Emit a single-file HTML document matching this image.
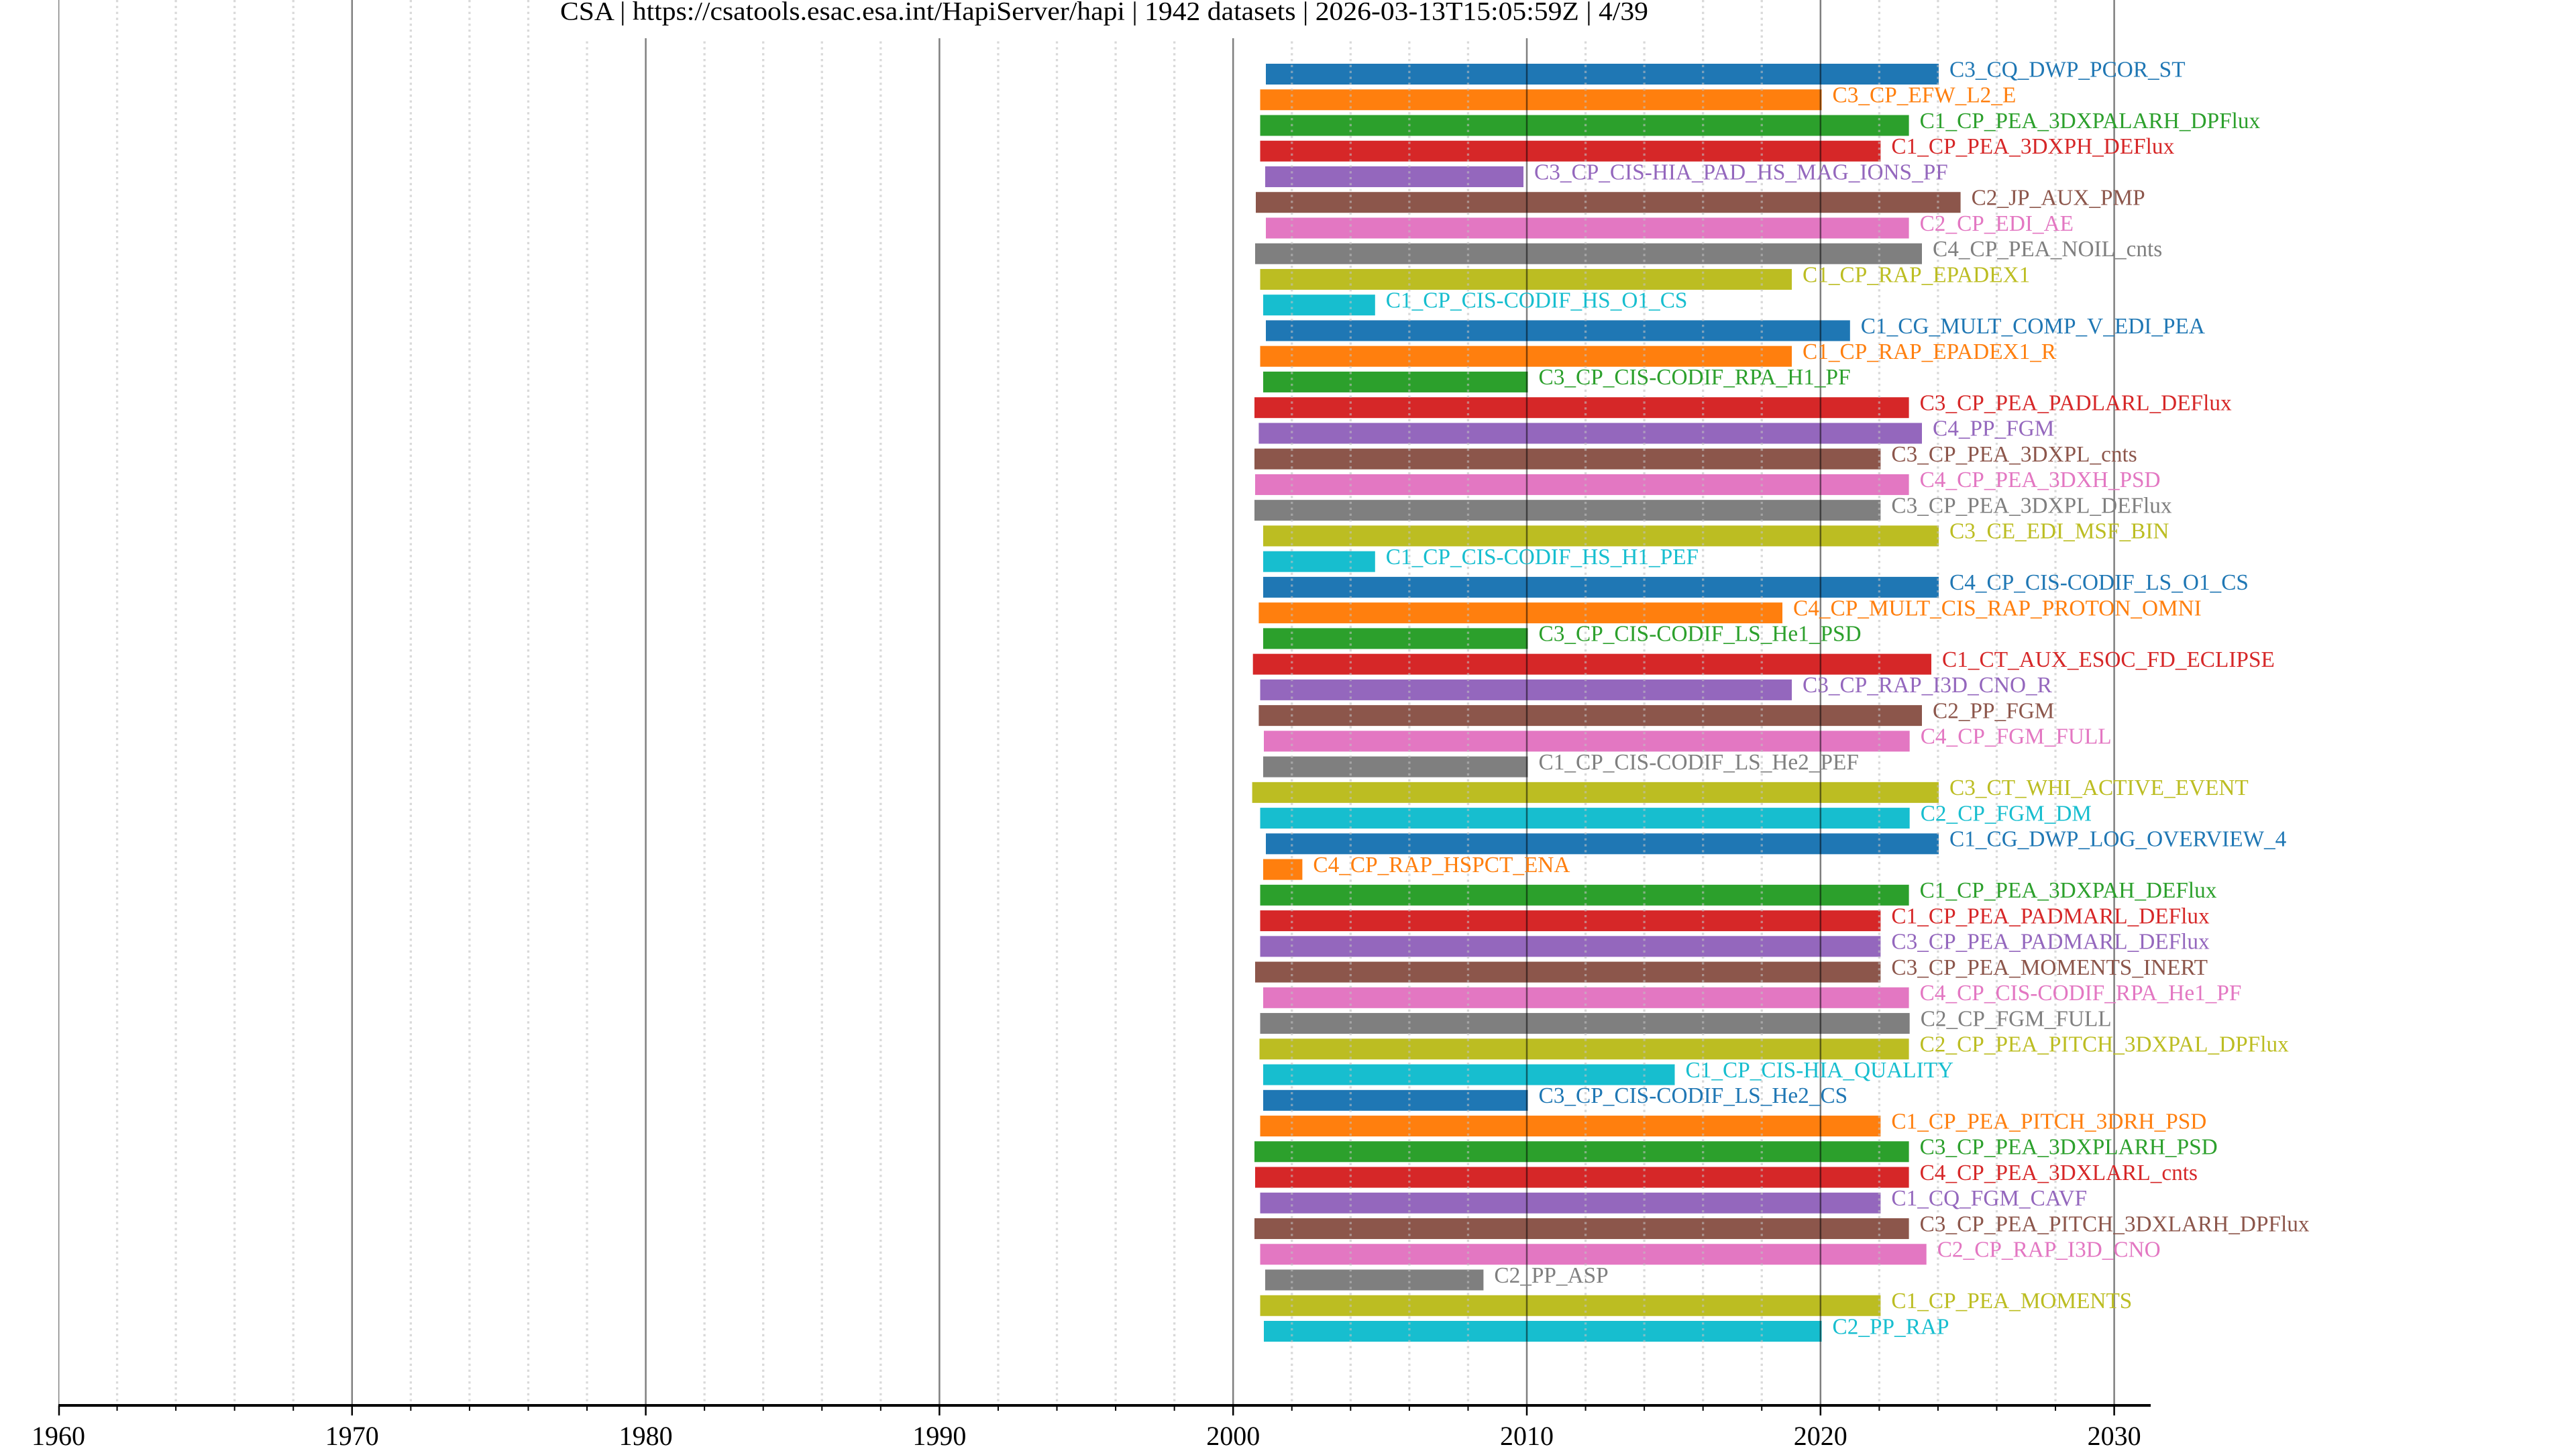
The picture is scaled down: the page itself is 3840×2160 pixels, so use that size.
<!DOCTYPE html>
<html>
<head>
<meta charset="utf-8">
<style>
html,body{margin:0;padding:0;background:#fff;}
svg{display:block;}
text{font-family:"Liberation Serif","Times New Roman",serif;}
</style>
</head>
<body>
<svg xmlns="http://www.w3.org/2000/svg" width="3840" height="2160" viewBox="0 0 3840 2160">
<rect x="0" y="0" width="3840" height="2160" fill="#fff"/>
<g id="bars">
<rect x="1887" y="95" width="1003" height="31" fill="#1f77b4"/>
<rect x="1878.5" y="133.25" width="837" height="31" fill="#ff7f0e"/>
<rect x="1878.5" y="171.5" width="967.1" height="31" fill="#2ca02c"/>
<rect x="1878.5" y="209.74" width="924.9" height="31" fill="#d62728"/>
<rect x="1886" y="247.98" width="385" height="31" fill="#9467bd"/>
<rect x="1872" y="286.23" width="1050.6" height="31" fill="#8c564b"/>
<rect x="1887" y="324.47" width="958.6" height="31" fill="#e377c2"/>
<rect x="1871" y="362.72" width="994" height="31" fill="#7f7f7f"/>
<rect x="1878.5" y="400.96" width="792.5" height="31" fill="#bcbd22"/>
<rect x="1883" y="439.21" width="166.8" height="31" fill="#17becf"/>
<rect x="1887" y="477.45" width="870.8" height="31" fill="#1f77b4"/>
<rect x="1878.5" y="515.7" width="792.5" height="31" fill="#ff7f0e"/>
<rect x="1883" y="553.94" width="394.5" height="31" fill="#2ca02c"/>
<rect x="1870" y="592.19" width="975.6" height="31" fill="#d62728"/>
<rect x="1876.4" y="630.43" width="988.6" height="31" fill="#9467bd"/>
<rect x="1870" y="668.68" width="933.4" height="31" fill="#8c564b"/>
<rect x="1871" y="706.92" width="974.6" height="31" fill="#e377c2"/>
<rect x="1870" y="745.17" width="933.4" height="31" fill="#7f7f7f"/>
<rect x="1883" y="783.41" width="1007" height="31" fill="#bcbd22"/>
<rect x="1883" y="821.66" width="166.8" height="31" fill="#17becf"/>
<rect x="1883" y="859.9" width="1007" height="31" fill="#1f77b4"/>
<rect x="1876.4" y="898.15" width="780.6" height="31" fill="#ff7f0e"/>
<rect x="1883" y="936.39" width="394.5" height="31" fill="#2ca02c"/>
<rect x="1867.7" y="974.64" width="1011.3" height="31" fill="#d62728"/>
<rect x="1878.5" y="1012.88" width="792.5" height="31" fill="#9467bd"/>
<rect x="1876.4" y="1051.13" width="988.6" height="31" fill="#8c564b"/>
<rect x="1884" y="1089.37" width="962.7" height="31" fill="#e377c2"/>
<rect x="1883" y="1127.62" width="394.5" height="31" fill="#7f7f7f"/>
<rect x="1866.6" y="1165.86" width="1023.4" height="31" fill="#bcbd22"/>
<rect x="1878.5" y="1204.11" width="968.2" height="31" fill="#17becf"/>
<rect x="1887" y="1242.35" width="1003" height="31" fill="#1f77b4"/>
<rect x="1883" y="1280.6" width="58.4" height="31" fill="#ff7f0e"/>
<rect x="1878.5" y="1318.84" width="967.1" height="31" fill="#2ca02c"/>
<rect x="1878.5" y="1357.09" width="924.9" height="31" fill="#d62728"/>
<rect x="1878.5" y="1395.33" width="924.9" height="31" fill="#9467bd"/>
<rect x="1871" y="1433.58" width="932.4" height="31" fill="#8c564b"/>
<rect x="1883" y="1471.82" width="962.6" height="31" fill="#e377c2"/>
<rect x="1878.5" y="1510.07" width="968.2" height="31" fill="#7f7f7f"/>
<rect x="1877.5" y="1548.31" width="968.1" height="31" fill="#bcbd22"/>
<rect x="1883" y="1586.56" width="613.5" height="31" fill="#17becf"/>
<rect x="1883" y="1624.8" width="394.5" height="31" fill="#1f77b4"/>
<rect x="1878.5" y="1663.05" width="924.9" height="31" fill="#ff7f0e"/>
<rect x="1870" y="1701.29" width="975.6" height="31" fill="#2ca02c"/>
<rect x="1871" y="1739.54" width="974.6" height="31" fill="#d62728"/>
<rect x="1878.5" y="1777.78" width="924.9" height="31" fill="#9467bd"/>
<rect x="1870" y="1816.03" width="975.6" height="31" fill="#8c564b"/>
<rect x="1878.5" y="1854.27" width="993.2" height="31" fill="#e377c2"/>
<rect x="1886" y="1892.52" width="325.4" height="31" fill="#7f7f7f"/>
<rect x="1878.5" y="1930.76" width="924.9" height="31" fill="#bcbd22"/>
<rect x="1884" y="1969.01" width="831.5" height="31" fill="#17becf"/>
</g>
<g id="minor" stroke="#c0c0c0" stroke-opacity="0.6" stroke-width="3.3" stroke-dasharray="3.3 5.5">
<line x1="174.56" y1="0" x2="174.56" y2="2093"/>
<line x1="262.12" y1="0" x2="262.12" y2="2093"/>
<line x1="349.68" y1="0" x2="349.68" y2="2093"/>
<line x1="437.24" y1="0" x2="437.24" y2="2093"/>
<line x1="612.36" y1="0" x2="612.36" y2="2093"/>
<line x1="699.92" y1="0" x2="699.92" y2="2093"/>
<line x1="787.48" y1="0" x2="787.48" y2="2093"/>
<line x1="875.04" y1="0" x2="875.04" y2="2093"/>
<line x1="1050.16" y1="0" x2="1050.16" y2="2093"/>
<line x1="1137.72" y1="0" x2="1137.72" y2="2093"/>
<line x1="1225.28" y1="0" x2="1225.28" y2="2093"/>
<line x1="1312.84" y1="0" x2="1312.84" y2="2093"/>
<line x1="1487.96" y1="0" x2="1487.96" y2="2093"/>
<line x1="1575.52" y1="0" x2="1575.52" y2="2093"/>
<line x1="1663.08" y1="0" x2="1663.08" y2="2093"/>
<line x1="1750.64" y1="0" x2="1750.64" y2="2093"/>
<line x1="1925.76" y1="0" x2="1925.76" y2="2093"/>
<line x1="2013.32" y1="0" x2="2013.32" y2="2093"/>
<line x1="2100.88" y1="0" x2="2100.88" y2="2093"/>
<line x1="2188.44" y1="0" x2="2188.44" y2="2093"/>
<line x1="2363.56" y1="0" x2="2363.56" y2="2093"/>
<line x1="2451.12" y1="0" x2="2451.12" y2="2093"/>
<line x1="2538.68" y1="0" x2="2538.68" y2="2093"/>
<line x1="2626.24" y1="0" x2="2626.24" y2="2093"/>
<line x1="2801.36" y1="0" x2="2801.36" y2="2093"/>
<line x1="2888.92" y1="0" x2="2888.92" y2="2093"/>
<line x1="2976.48" y1="0" x2="2976.48" y2="2093"/>
<line x1="3064.04" y1="0" x2="3064.04" y2="2093"/>
</g>
<g id="major" stroke="#000" stroke-opacity="0.5" stroke-width="2.5">
<line x1="524.8" y1="0" x2="524.8" y2="2093"/>
<line x1="962.6" y1="0" x2="962.6" y2="2093"/>
<line x1="1400.4" y1="0" x2="1400.4" y2="2093"/>
<line x1="1838.2" y1="0" x2="1838.2" y2="2093"/>
<line x1="2276" y1="0" x2="2276" y2="2093"/>
<line x1="2713.8" y1="0" x2="2713.8" y2="2093"/>
<line x1="3151.6" y1="0" x2="3151.6" y2="2093"/>
</g>
<rect x="87" y="0" width="1.4" height="2093" fill="#000" fill-opacity="0.5"/>
<g id="labels" font-size="33.3">
<text x="2906" y="114.3" fill="#1f77b4">C3_CQ_DWP_PCOR_ST</text>
<text x="2731.5" y="152.55" fill="#ff7f0e">C3_CP_EFW_L2_E</text>
<text x="2861.6" y="190.79" fill="#2ca02c">C1_CP_PEA_3DXPALARH_DPFlux</text>
<text x="2819.4" y="229.04" fill="#d62728">C1_CP_PEA_3DXPH_DEFlux</text>
<text x="2287" y="267.28" fill="#9467bd">C3_CP_CIS-HIA_PAD_HS_MAG_IONS_PF</text>
<text x="2938.6" y="305.53" fill="#8c564b">C2_JP_AUX_PMP</text>
<text x="2861.6" y="343.77" fill="#e377c2">C2_CP_EDI_AE</text>
<text x="2881" y="382.02" fill="#7f7f7f">C4_CP_PEA_NOIL_cnts</text>
<text x="2687" y="420.26" fill="#bcbd22">C1_CP_RAP_EPADEX1</text>
<text x="2065.8" y="458.51" fill="#17becf">C1_CP_CIS-CODIF_HS_O1_CS</text>
<text x="2773.8" y="496.75" fill="#1f77b4">C1_CG_MULT_COMP_V_EDI_PEA</text>
<text x="2687" y="535" fill="#ff7f0e">C1_CP_RAP_EPADEX1_R</text>
<text x="2293.5" y="573.24" fill="#2ca02c">C3_CP_CIS-CODIF_RPA_H1_PF</text>
<text x="2861.6" y="611.49" fill="#d62728">C3_CP_PEA_PADLARL_DEFlux</text>
<text x="2881" y="649.73" fill="#9467bd">C4_PP_FGM</text>
<text x="2819.4" y="687.98" fill="#8c564b">C3_CP_PEA_3DXPL_cnts</text>
<text x="2861.6" y="726.22" fill="#e377c2">C4_CP_PEA_3DXH_PSD</text>
<text x="2819.4" y="764.47" fill="#7f7f7f">C3_CP_PEA_3DXPL_DEFlux</text>
<text x="2906" y="802.71" fill="#bcbd22">C3_CE_EDI_MSF_BIN</text>
<text x="2065.8" y="840.96" fill="#17becf">C1_CP_CIS-CODIF_HS_H1_PEF</text>
<text x="2906" y="879.2" fill="#1f77b4">C4_CP_CIS-CODIF_LS_O1_CS</text>
<text x="2673" y="917.45" fill="#ff7f0e">C4_CP_MULT_CIS_RAP_PROTON_OMNI</text>
<text x="2293.5" y="955.69" fill="#2ca02c">C3_CP_CIS-CODIF_LS_He1_PSD</text>
<text x="2895" y="993.94" fill="#d62728">C1_CT_AUX_ESOC_FD_ECLIPSE</text>
<text x="2687" y="1032.18" fill="#9467bd">C3_CP_RAP_I3D_CNO_R</text>
<text x="2881" y="1070.43" fill="#8c564b">C2_PP_FGM</text>
<text x="2862.7" y="1108.67" fill="#e377c2">C4_CP_FGM_FULL</text>
<text x="2293.5" y="1146.92" fill="#7f7f7f">C1_CP_CIS-CODIF_LS_He2_PEF</text>
<text x="2906" y="1185.16" fill="#bcbd22">C3_CT_WHI_ACTIVE_EVENT</text>
<text x="2862.7" y="1223.41" fill="#17becf">C2_CP_FGM_DM</text>
<text x="2906" y="1261.65" fill="#1f77b4">C1_CG_DWP_LOG_OVERVIEW_4</text>
<text x="1957.4" y="1299.9" fill="#ff7f0e">C4_CP_RAP_HSPCT_ENA</text>
<text x="2861.6" y="1338.14" fill="#2ca02c">C1_CP_PEA_3DXPAH_DEFlux</text>
<text x="2819.4" y="1376.39" fill="#d62728">C1_CP_PEA_PADMARL_DEFlux</text>
<text x="2819.4" y="1414.63" fill="#9467bd">C3_CP_PEA_PADMARL_DEFlux</text>
<text x="2819.4" y="1452.88" fill="#8c564b">C3_CP_PEA_MOMENTS_INERT</text>
<text x="2861.6" y="1491.12" fill="#e377c2">C4_CP_CIS-CODIF_RPA_He1_PF</text>
<text x="2862.7" y="1529.37" fill="#7f7f7f">C2_CP_FGM_FULL</text>
<text x="2861.6" y="1567.61" fill="#bcbd22">C2_CP_PEA_PITCH_3DXPAL_DPFlux</text>
<text x="2512.5" y="1605.86" fill="#17becf">C1_CP_CIS-HIA_QUALITY</text>
<text x="2293.5" y="1644.1" fill="#1f77b4">C3_CP_CIS-CODIF_LS_He2_CS</text>
<text x="2819.4" y="1682.35" fill="#ff7f0e">C1_CP_PEA_PITCH_3DRH_PSD</text>
<text x="2861.6" y="1720.59" fill="#2ca02c">C3_CP_PEA_3DXPLARH_PSD</text>
<text x="2861.6" y="1758.84" fill="#d62728">C4_CP_PEA_3DXLARL_cnts</text>
<text x="2819.4" y="1797.08" fill="#9467bd">C1_CQ_FGM_CAVF</text>
<text x="2861.6" y="1835.33" fill="#8c564b">C3_CP_PEA_PITCH_3DXLARH_DPFlux</text>
<text x="2887.7" y="1873.57" fill="#e377c2">C2_CP_RAP_I3D_CNO</text>
<text x="2227.4" y="1911.82" fill="#7f7f7f">C2_PP_ASP</text>
<text x="2819.4" y="1950.06" fill="#bcbd22">C1_CP_PEA_MOMENTS</text>
<text x="2731.5" y="1988.31" fill="#17becf">C2_PP_RAP</text>
</g>
<rect x="87" y="2093" width="3119" height="4" fill="#000"/>
<g id="ticks" stroke="#000">
<g stroke-width="2.5">
<line x1="88" y1="2095" x2="88" y2="2110"/>
<line x1="524.8" y1="2095" x2="524.8" y2="2110"/>
<line x1="962.6" y1="2095" x2="962.6" y2="2110"/>
<line x1="1400.4" y1="2095" x2="1400.4" y2="2110"/>
<line x1="1838.2" y1="2095" x2="1838.2" y2="2110"/>
<line x1="2276" y1="2095" x2="2276" y2="2110"/>
<line x1="2713.8" y1="2095" x2="2713.8" y2="2110"/>
<line x1="3151.6" y1="2095" x2="3151.6" y2="2110"/>
</g>
<g stroke-width="2">
<line x1="174.56" y1="2095" x2="174.56" y2="2103"/>
<line x1="262.12" y1="2095" x2="262.12" y2="2103"/>
<line x1="349.68" y1="2095" x2="349.68" y2="2103"/>
<line x1="437.24" y1="2095" x2="437.24" y2="2103"/>
<line x1="612.36" y1="2095" x2="612.36" y2="2103"/>
<line x1="699.92" y1="2095" x2="699.92" y2="2103"/>
<line x1="787.48" y1="2095" x2="787.48" y2="2103"/>
<line x1="875.04" y1="2095" x2="875.04" y2="2103"/>
<line x1="1050.16" y1="2095" x2="1050.16" y2="2103"/>
<line x1="1137.72" y1="2095" x2="1137.72" y2="2103"/>
<line x1="1225.28" y1="2095" x2="1225.28" y2="2103"/>
<line x1="1312.84" y1="2095" x2="1312.84" y2="2103"/>
<line x1="1487.96" y1="2095" x2="1487.96" y2="2103"/>
<line x1="1575.52" y1="2095" x2="1575.52" y2="2103"/>
<line x1="1663.08" y1="2095" x2="1663.08" y2="2103"/>
<line x1="1750.64" y1="2095" x2="1750.64" y2="2103"/>
<line x1="1925.76" y1="2095" x2="1925.76" y2="2103"/>
<line x1="2013.32" y1="2095" x2="2013.32" y2="2103"/>
<line x1="2100.88" y1="2095" x2="2100.88" y2="2103"/>
<line x1="2188.44" y1="2095" x2="2188.44" y2="2103"/>
<line x1="2363.56" y1="2095" x2="2363.56" y2="2103"/>
<line x1="2451.12" y1="2095" x2="2451.12" y2="2103"/>
<line x1="2538.68" y1="2095" x2="2538.68" y2="2103"/>
<line x1="2626.24" y1="2095" x2="2626.24" y2="2103"/>
<line x1="2801.36" y1="2095" x2="2801.36" y2="2103"/>
<line x1="2888.92" y1="2095" x2="2888.92" y2="2103"/>
<line x1="2976.48" y1="2095" x2="2976.48" y2="2103"/>
<line x1="3064.04" y1="2095" x2="3064.04" y2="2103"/>
</g>
</g>
<g id="ticklabels" font-size="40" fill="#000" text-anchor="middle">
<text x="87" y="2154">1960</text>
<text x="524.8" y="2154">1970</text>
<text x="962.6" y="2154">1980</text>
<text x="1400.4" y="2154">1990</text>
<text x="1838.2" y="2154">2000</text>
<text x="2276" y="2154">2010</text>
<text x="2713.8" y="2154">2020</text>
<text x="3151.6" y="2154">2030</text>
</g>
<rect x="808" y="0" width="1676" height="57" fill="#fff"/>
<text x="835" y="29.5" font-size="39" fill="#000" textLength="1622" lengthAdjust="spacingAndGlyphs">CSA | https://csatools.esac.esa.int/HapiServer/hapi | 1942 datasets | 2026-03-13T15:05:59Z | 4/39</text>
</svg>
</body>
</html>
